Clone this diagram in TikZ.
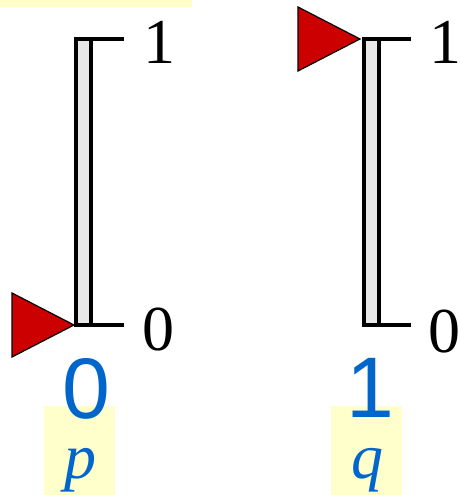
\documentclass[tikz,border=0pt]{standalone}
\usepackage{fontspec}
\setmainfont{Liberation Serif}
\newfontfamily\digitfont{Liberation Sans}
\definecolor{hilite}{HTML}{FFFFCC}
\definecolor{bitblue}{HTML}{0066CC}
\definecolor{flagred}{HTML}{CC0000}
\definecolor{barfill}{HTML}{E8E8E8}
\newcommand{\meter}[2]{\draw[line width=3.6pt,fill=barfill] (#1,39) rectangle (#1+15,325);\draw[line width=3.6pt] (#1+15,39)--(#2,39) (#1+15,325)--(#2,325);}
\newcommand{\flag}[2]{\filldraw[fill=flagred,draw=black,line width=1.2pt,line join=miter] (#1,#2)--(#1-62,#2-32)--(#1-62,#2+32)--cycle;}

\begin{document}
\begin{tikzpicture}[x=1pt,y=-1pt,
  scalelbl/.style={font=\fontsize{64}{64}\selectfont,inner sep=0pt},
  bitlbl/.style={font=\digitfont\fontsize{86}{86}\selectfont,text=bitblue,inner sep=0pt},
  varlbl/.style={font=\itshape\fontsize{64}{64}\selectfont,text=bitblue,inner sep=0pt}]
\useasboundingbox (0,0) rectangle (460,495);
\fill[hilite] (0,0) rectangle (192,7);
\fill[hilite] (44,406) rectangle (115,495);\fill[hilite] (331,406) rectangle (402,495);
% left meter, pointer at 0
\meter{76}{124}
\flag{74}{325}
\node[scalelbl] (ltop) at (159,42){1};\node[scalelbl] (lbot) at (158,330){0};
\node[bitlbl] (pval) at (86,389){0};\node[varlbl] (pname) at (80,470){p};
% right meter, pointer at 1
\meter{364}{411}
\flag{360}{39}
\node[scalelbl] (rtop) at (445,42){1};\node[scalelbl] (rbot) at (444,332){0};
\node[bitlbl] (qval) at (370,388){1};\node[varlbl] (qname) at (367,470){q};
\end{tikzpicture}
\end{document}
